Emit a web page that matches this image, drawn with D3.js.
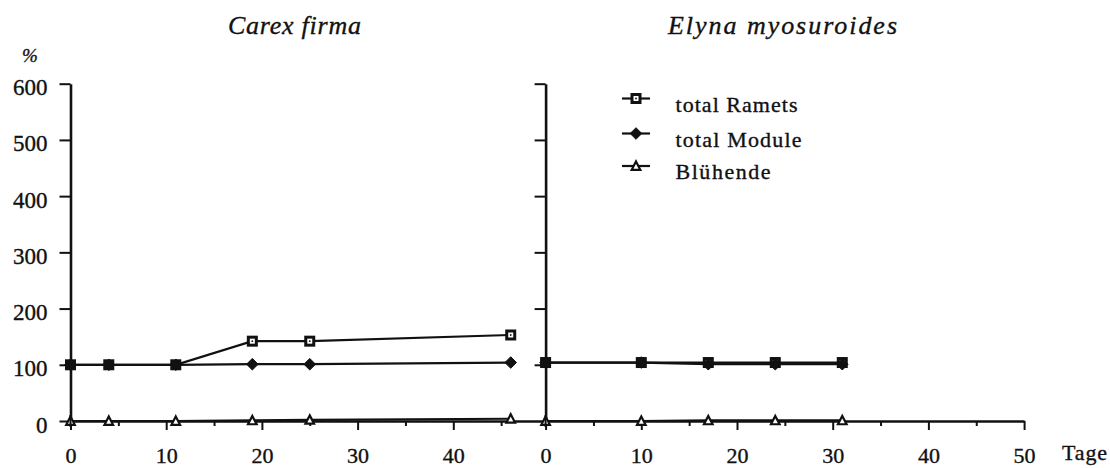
<!DOCTYPE html>
<html>
<head>
<meta charset="utf-8">
<script src="https://cdn.jsdelivr.net/npm/d3@7"></script>
<style>
  html, body { margin: 0; padding: 0; background: #fff; }
  svg { display: block; }
</style>
</head>
<body>
<svg id="chart" width="1110" height="468"></svg>
<script>
// ---- data ----
const carexDays      = [0, 4, 11, 19, 25, 46];
const carexRamets    = [100, 100, 100, 142, 142, 153];
const carexModule    = [100, 100, 100, 101, 101, 104];
const carexBluehende = [0, 0, 0, 1, 2, 4];

const elynaDays      = [0, 10, 17, 24, 31];
const elynaRamets    = [104, 104, 104, 104, 104];
const elynaModule    = [104, 104, 101, 101, 101];
const elynaBluehende = [0, 0, 1, 1, 1];

const yTicks        = [0, 100, 200, 300, 400, 500, 600];
const xMajorLeft    = [0, 10, 20, 30, 40];
const xMinorLeft    = [5, 15, 25, 35, 45];
const xMajorRight   = [0, 10, 20, 30, 40, 50];
const xMinorRight   = [5, 15, 25, 35, 45];
const seriesNames   = ["total Ramets", "total Module", "Blühende"];
const panelTitles   = ["Carex firma", "Elyna myosuroides"];

// ---- layout ----
const FONT = "'Liberation Serif'";
const svg = d3.select("#chart");
const Y0 = 421, Y600 = 83.7;
const LX0 = 70.5, RX0 = 545.6, PX = 9.57;

const y = d3.scaleLinear().domain([0, 600]).range([Y0, Y600]);
const xL = d3.scaleLinear().domain([0, (RX0 - LX0) / PX]).range([LX0, RX0]);
const xR = d3.scaleLinear().domain([0, 50]).range([RX0, RX0 + 50 * PX]);

const FS = 22;

function styleAxis(g, domainW, tickW) {
  g.attr("font-family", null).attr("font-size", null);
  g.select(".domain").attr("stroke", "#111").attr("stroke-width", domainW);
  g.selectAll(".tick line").attr("stroke", "#111").attr("stroke-width", tickW);
}
function serif(sel, size, italic) {
  return sel.style("font-family", FONT).style("font-size", size + "px")
    .style("font-style", italic ? "italic" : "normal").attr("fill", "#111")
    .attr("stroke", "#111").attr("stroke-width", 0.35);
}

// y axes
const gyL = svg.append("g").attr("transform", `translate(${LX0},0)`)
  .call(d3.axisLeft(y).tickValues(yTicks).tickSize(11).tickSizeOuter(0).tickFormat(d3.format("d")));
styleAxis(gyL, 2.6, 2);
serif(gyL.selectAll("text").attr("x", -23).attr("dy", 0).attr("y", 11), 23, false);

const gyR = svg.append("g").attr("transform", `translate(${RX0},0)`)
  .call(d3.axisLeft(y).tickValues(yTicks.slice(1)).tickSize(11).tickSizeOuter(0).tickFormat(""));
styleAxis(gyR, 2.6, 2);

// x axes
function xAxis(scale, major, minor) {
  const gM = svg.append("g").attr("transform", `translate(0,${Y0})`)
    .call(d3.axisBottom(scale).tickValues(major).tickSize(9).tickSizeOuter(0).tickFormat(d3.format("d")));
  styleAxis(gM, 2.6, 2);
  serif(gM.selectAll("text").attr("y", 42).attr("dy", 0), FS, false);
  const gm = svg.append("g").attr("transform", `translate(0,${Y0})`)
    .call(d3.axisBottom(scale).tickValues(minor).tickSize(5).tickSizeOuter(0).tickFormat(""));
  styleAxis(gm, 0, 2);
  gm.select(".domain").remove();
}
xAxis(xL, xMajorLeft, xMinorLeft);
xAxis(xR, xMajorRight, xMinorRight);

// markers
function squareMarker(g, cx, cy) {
  g.append("rect").attr("x", cx - 4).attr("y", cy - 4).attr("width", 8).attr("height", 8)
    .attr("fill", "#fff").attr("stroke", "#111").attr("stroke-width", 3);
  g.append("circle").attr("cx", cx).attr("cy", cy).attr("r", 0.9).attr("fill", "#111");
}
function diamondMarker(g, cx, cy) {
  const r = 5.8;
  g.append("path").attr("d", `M${cx},${cy - r}L${cx + r},${cy}L${cx},${cy + r}L${cx - r},${cy}Z`)
    .attr("fill", "#111").attr("stroke", "#111").attr("stroke-width", 1).attr("stroke-linejoin", "round");
}
function triangleMarker(g, cx, cy) {
  g.append("path").attr("d", `M${cx},${cy - 4.5}L${cx + 4.3},${cy + 3.8}L${cx - 4.3},${cy + 3.8}Z`)
    .attr("fill", "#fff").attr("stroke", "#111").attr("stroke-width", 2.2).attr("stroke-linejoin", "miter");
}

function drawPanel(xs, days, ram, mod, blu) {
  const g = svg.append("g");
  const line = (vals) => d3.line().x((d, i) => xs(days[i])).y(d => y(d))(vals);
  [blu, ram, mod].forEach(vals => {
    g.append("path").attr("d", line(vals)).attr("fill", "none")
      .attr("stroke", "#111").attr("stroke-width", 2.2);
  });
  days.forEach((d, i) => triangleMarker(g, xs(d), y(blu[i])));
  days.forEach((d, i) => squareMarker(g, xs(d), y(ram[i])));
  days.forEach((d, i) => diamondMarker(g, xs(d), y(mod[i])));
}
drawPanel(xL, carexDays, carexRamets, carexModule, carexBluehende);
drawPanel(xR, elynaDays, elynaRamets, elynaModule, elynaBluehende);

// vertical axis lines cross the markers at the origin in the original
[LX0, RX0].forEach(xx => {
  svg.append("line").attr("x1", xx).attr("x2", xx).attr("y1", y(0) - 6).attr("y2", y(0) + 6)
    .attr("stroke", "#111").attr("stroke-width", 2);
});

// titles
function fitText(sel, w) { sel.attr("textLength", w).attr("lengthAdjust", "spacing"); return sel; }
fitText(serif(svg.append("text").attr("x", 228).attr("y", 34), 26, true).text(panelTitles[0]), 133);
fitText(serif(svg.append("text").attr("x", 668).attr("y", 34), 26, true).text(panelTitles[1]), 229);

serif(svg.append("text").attr("x", 22).attr("y", 62), 19, true).text("%");

fitText(serif(svg.append("text").attr("x", 1062).attr("y", 460), FS, false).text("Tage"), 45);

// legend
const legY = [98.5, 133.5, 166];
const legW = [122, 126, 95];
const markers = [squareMarker, diamondMarker, triangleMarker];
seriesNames.forEach((name, i) => {
  const g = svg.append("g");
  g.append("line").attr("x1", 622).attr("x2", 650).attr("y1", legY[i]).attr("y2", legY[i])
    .attr("stroke", "#111").attr("stroke-width", 2.2);
  markers[i](g, 636, legY[i]);
  fitText(serif(g.append("text").attr("x", 675.5).attr("y", legY[i] + 13), 22, false).text(name), legW[i]);
});
</script>
</body>
</html>
